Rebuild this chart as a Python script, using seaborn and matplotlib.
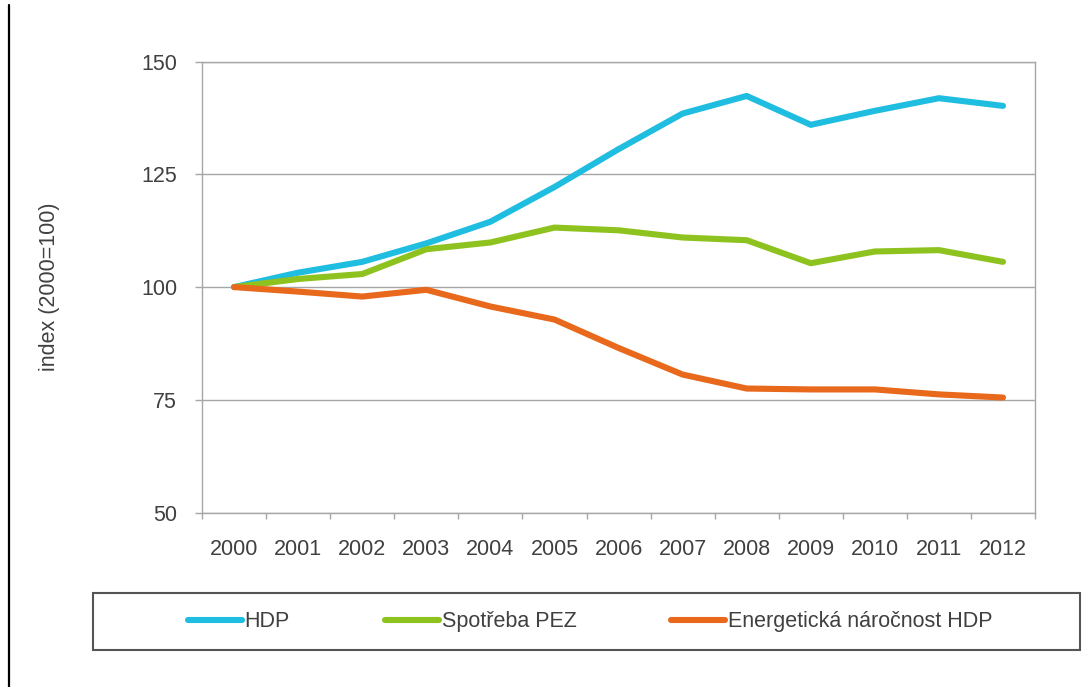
import numpy as np
import pandas as pd
import seaborn as sns
import matplotlib.pyplot as plt
from matplotlib.lines import Line2D
from matplotlib.patches import Rectangle
from matplotlib.ticker import FixedLocator

# data
years = ["2000", "2001", "2002", "2003", "2004", "2005", "2006",
         "2007", "2008", "2009", "2010", "2011", "2012"]
hdp = [100, 103.2, 105.6, 109.7, 114.5, 122.2, 130.6, 138.5, 142.4, 136.0, 139.1, 141.9, 140.2]
pez = [100, 101.8, 102.9, 108.4, 109.9, 113.2, 112.6, 111.0, 110.4, 105.3, 107.9, 108.2, 105.6]
narocnost = [100, 99.0, 97.9, 99.4, 95.7, 92.8, 86.5, 80.6, 77.5, 77.3, 77.3, 76.2, 75.5]

series_names = ["HDP", "Spotřeba PEZ", "Energetická náročnost HDP"]
colors = ["#1fbde0", "#8dc21f", "#e8681c"]

df = pd.DataFrame({
    "rok": years * 3,
    "index": hdp + pez + narocnost,
    "rada": [series_names[0]] * 13 + [series_names[1]] * 13 + [series_names[2]] * 13,
})

sns.set_style("white")
plt.rcParams["font.family"] = ["Liberation Sans", "DejaVu Sans"]
text_col = "#404040"
grid_col = "#a6a6a6"

fig = plt.figure(figsize=(10.91, 6.87), dpi=100)
ax = fig.add_axes([0.1852, 0.254, 0.7635, 0.6562])

sns.lineplot(data=df, x="rok", y="index", hue="rada", palette=colors,
             hue_order=series_names, linewidth=4.4, sort=False, ax=ax,
             legend=False, solid_capstyle="round", solid_joinstyle="round")

ax.set_ylim(50, 150)
ax.set_xlim(-0.5, len(years) - 0.5)
ax.set_yticks([50, 75, 100, 125, 150])
ax.yaxis.grid(True, color=grid_col, linewidth=1)
ax.set_axisbelow(True)

# category labels at centres, tick marks at boundaries
ax.set_xticks(range(len(years)))
ax.set_xticklabels(years)
ax.xaxis.set_minor_locator(FixedLocator(np.arange(-0.5, len(years), 1.0)))
ax.tick_params(axis="x", which="major", length=0, pad=19, labelsize=15.5, labelcolor=text_col)
ax.tick_params(axis="x", which="minor", length=4, width=1, color=grid_col, direction="out", bottom=True)
ax.tick_params(axis="y", length=5, width=1, color=grid_col, pad=13, labelsize=15.5,
               labelcolor=text_col, left=True)

for s in ["left", "bottom", "right", "top"]:
    ax.spines[s].set_color(grid_col)
    ax.spines[s].set_linewidth(1)

ax.set_xlabel("")
ax.set_ylabel("index (2000=100)", fontsize=15.5, color=text_col)
ax.yaxis.set_label_coords(-0.170, 0.5)

# legend in a box below the chart
handles = [Line2D([0], [0], color=c, lw=4.4, solid_capstyle="round") for c in colors]
fig.legend(handles, series_names, loc="center", bbox_to_anchor=(0.541, 0.095),
           ncol=3, frameon=False, fontsize=15.5, handlelength=2.5, handletextpad=0.15,
           columnspacing=4.4, labelcolor=text_col)
fig.add_artist(Rectangle((92.7 / 1091, 1 - 650 / 687), (1080 - 92.7) / 1091, (650 - 592.7) / 687,
                         transform=fig.transFigure, fill=False, edgecolor="#555555", linewidth=1.5))

# black vertical line at the left edge
fig.add_artist(Line2D([9 / 1091, 9 / 1091], [0, 1 - 5 / 687], transform=fig.transFigure,
                      color="black", linewidth=1.6))

fig.savefig("out.png", dpi=100)
